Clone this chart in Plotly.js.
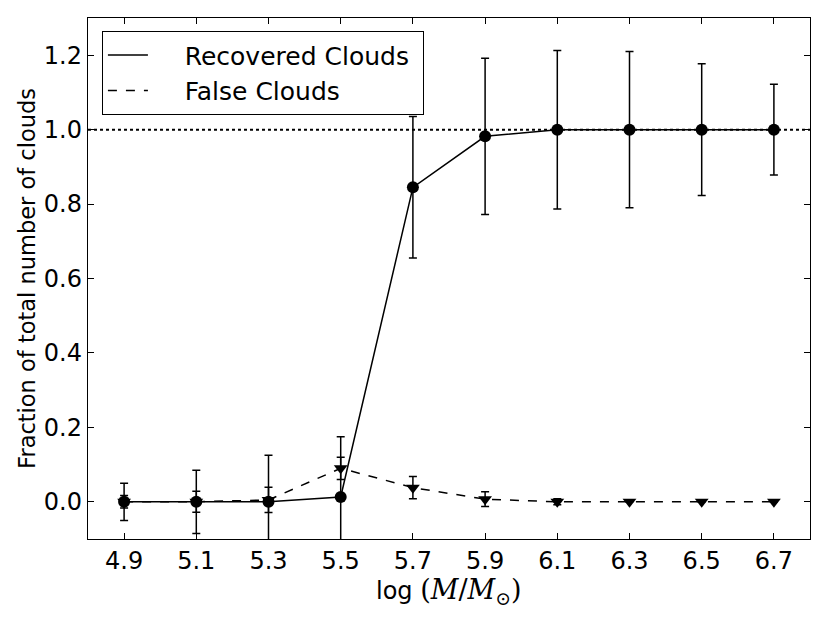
<!DOCTYPE html>
<html>
<head>
<meta charset="utf-8">
<script src="https://cdn.plot.ly/plotly-3.0.1.min.js"></script>
<style>
  body { margin: 0; background: #fff; }
  #chart { width: 830px; height: 623px; }
</style>
</head>
<body>
<div id="chart"></div>
<script>
// log(M/Msun) bins
const logMass = [4.9, 5.1, 5.3, 5.5, 5.7, 5.9, 6.1, 6.3, 6.5, 6.7];

// recovered fraction and its error
const recovered = [0.0, 0.0, 0.0, 0.013, 0.845, 0.982, 1.0, 1.0, 1.0, 1.0];
const recoveredErr = [0.05, 0.085, 0.125, 0.162, 0.19, 0.21, 0.213, 0.21, 0.177, 0.122];

// false detections and error
const falseFrac = [0.0, 0.0, 0.005, 0.09, 0.038, 0.007, 0.0, 0.0, 0.0, 0.0];
const falseErr = [0.017, 0.028, 0.034, 0.03, 0.03, 0.02, 0.008, 0.0, 0.0, 0.0];

const tickVals = [4.9, 5.1, 5.3, 5.5, 5.7, 5.9, 6.1, 6.3, 6.5, 6.7];
const yTickVals = [0, 0.2, 0.4, 0.6, 0.8, 1.0, 1.2];
const refLevel = 1.0;

const font = "DejaVu Sans, sans-serif";
const pad = "\u00a0\u00a0\u00a0\u00a0"; // gap between legend line and label, like mpl
const xLabel = "log <span style=\"font-family:'DejaVu Serif',serif;font-size:27px\">(<i>M</i>/<i>M</i><sub>⊙</sub>)</span>";

const traces = [
    {
        x: logMass, y: recovered,
        type: "scatter", mode: "lines+markers",
        line: {color: "black", width: 1.5},
        marker: {symbol: "circle", size: 12, color: "black"},
        error_y: {type: "data", array: recoveredErr, visible: true, color: "black", thickness: 1.5, width: 4},
        showlegend: false
    },
    {
        x: logMass, y: falseFrac,
        type: "scatter", mode: "lines+markers",
        line: {color: "black", width: 1.5, dash: "dash"},
        marker: {symbol: "triangle-down", size: 12, color: "black"},
        error_y: {type: "data", array: falseErr, visible: true, color: "black", thickness: 1.5, width: 4},
        showlegend: false
    },
    // legend entries only (matplotlib shows just the line style)
    {
        x: [null], y: [null], type: "scatter", mode: "lines",
        name: pad + "Recovered Clouds\u00a0",
        line: {color: "black", width: 1.5}
    },
    {
        x: [null], y: [null], type: "scatter", mode: "lines",
        name: pad + "False Clouds",
        line: {color: "black", width: 1.5, dash: "dash"}
    }
];

const axisCommon = {
    showgrid: false,
    zeroline: false,
    showline: true,
    linecolor: "black",
    linewidth: 1.2,
    mirror: "allticks",
    ticks: "inside",
    ticklen: 6,
    tickwidth: 1,
    tickcolor: "black",
    tickfont: {family: font, size: 24, color: "black"}
};

const layout = {
    width: 830,
    height: 623,
    margin: {l: 88, r: 20, t: 18, b: 84},
    paper_bgcolor: "white",
    plot_bgcolor: "white",
    font: {family: font, color: "black"},
    xaxis: Object.assign({}, axisCommon, {
        range: [4.8, 6.8],
        tickvals: tickVals,
        ticktext: tickVals.map(v => v.toFixed(1))
    }),
    yaxis: Object.assign({}, axisCommon, {
        range: [-0.1, 1.3],
        tickvals: yTickVals,
        ticktext: yTickVals.map(v => v.toFixed(1)),
        title: {
            text: "Fraction of total number of clouds",
            font: {family: font, size: 22.5, color: "black"},
            standoff: 2
        }
    }),
    annotations: [{
        text: xLabel,
        xref: "paper", yref: "paper",
        x: 0.5, y: -0.1,
        xanchor: "center", yanchor: "middle",
        showarrow: false,
        font: {family: font, size: 24, color: "black"}
    }],
    legend: {
        x: 0.019, y: 0.975,
        xanchor: "left", yanchor: "top",
        bgcolor: "white",
        bordercolor: "black",
        borderwidth: 1.2,
        font: {family: font, size: 25, color: "black"},
        itemwidth: 40,
        tracegroupgap: 0
    },
    shapes: [{
        type: "line", xref: "paper", yref: "y",
        x0: 0, x1: 1, y0: refLevel, y1: refLevel,
        line: {color: "black", width: 2, dash: "dot"},
        layer: "below"
    }]
};

Plotly.newPlot("chart", traces, layout, {displayModeBar: false, staticPlot: true});
</script>
</body>
</html>
